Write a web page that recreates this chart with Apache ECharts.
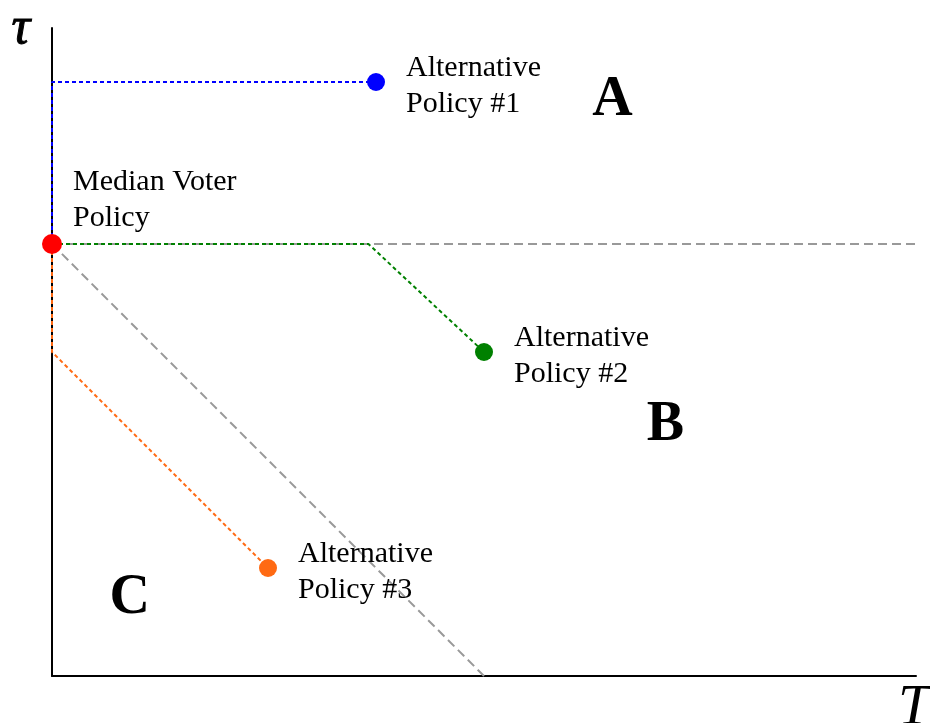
<!DOCTYPE html>
<html><head><meta charset="utf-8">
<script src="https://cdn.jsdelivr.net/npm/echarts@6/dist/echarts.min.js"></script>
<style>html,body{margin:0;padding:0;background:#fff}#c{width:930px;height:723px}</style>
</head><body><div id="c"></div>
<script>
const medianVoter = [0, 4];
const medianLabel = 'Median Voter\nPolicy';
const altNames = ['Alternative\nPolicy #1', 'Alternative\nPolicy #2', 'Alternative\nPolicy #3'];
const altPoints = [[3, 5.5], [4, 3], [2, 1]];
const altColors = ['#0000ff', '#008000', '#ff6a13'];
const pathBlue = [[0, 4], [0, 5.5], [3, 5.5]];
const pathGreen = [[0, 4], [2.93, 4], [4, 3]];
const pathOrange = [[0, 4], [0, 3], [2, 1]];
const grayHorizontal = [[0, 4], [8, 4]];
const grayDiagonal = [[0, 4], [4, 0]];
const regionNames = ['A', 'B', 'C'];
const regionPos = [[5.19, 5.33], [5.68, 2.32], [0.72, 0.72]];

const serif = 'Liberation Serif, Times New Roman, serif';
const chart = echarts.init(document.getElementById('c'));

function pathSeries(data, color, dash, width) {
  return {type: 'line', data: data, symbol: 'none', silent: true, z: 2,
    lineStyle: {color: color, width: width, type: dash}};
}

chart.setOption({
  animation: false,
  grid: {left: 52, right: 14, top: 28, bottom: 47},
  xAxis: {type: 'value', min: 0, max: 8, axisLine: {lineStyle: {color: '#000', width: 2}},
    axisTick: {show: false}, axisLabel: {show: false}, splitLine: {show: false}},
  yAxis: {type: 'value', min: 0, max: 6, axisLine: {show: true, lineStyle: {color: '#000', width: 2}},
    axisTick: {show: false}, axisLabel: {show: false}, splitLine: {show: false}},
  graphic: [
    {type: 'text', left: 11, top: 3, style: {text: 'τ', font: 'italic 52px ' + serif, fill: '#000', stroke: '#000', lineWidth: 1}},
    {type: 'text', left: 898, top: 680, style: {text: 'T', font: 'italic 58px ' + serif, fill: '#000'}}
  ],
  series: [
    pathSeries(grayHorizontal, '#999999', [9, 5], 2),
    pathSeries(grayDiagonal, '#999999', [9, 5], 2),
    pathSeries(pathBlue, altColors[0], [4, 3], 2),
    pathSeries(pathGreen, altColors[1], [4, 3], 2),
    pathSeries(pathOrange, altColors[2], [4, 3], 2),
    {type: 'scatter', z: 5, symbolSize: 18,
      data: altPoints.map((p, i) => ({value: p, name: altNames[i], itemStyle: {color: altColors[i], opacity: 1}})),
      label: {show: true, position: 'right', distance: 21, offset: [0, 4], formatter: p => p.name,
        fontFamily: serif, fontSize: 30, lineHeight: 36, color: '#000'}},
    {type: 'scatter', z: 6, symbolSize: 20,
      data: [{value: medianVoter, name: medianLabel}],
      itemStyle: {color: '#ff0000', opacity: 1},
      label: {show: true, position: 'right', distance: 11, offset: [0, -44], formatter: p => p.name,
        fontFamily: serif, fontSize: 30, lineHeight: 36, color: '#000'}},
    {type: 'scatter', z: 4, symbolSize: 0, silent: true,
      itemStyle: {opacity: 1},
      data: regionPos.map((p, i) => ({value: p, name: regionNames[i]})),
      label: {show: true, position: 'inside', formatter: p => p.name,
        fontFamily: serif, fontSize: 56, fontWeight: 'bold', color: '#000'}}
  ]
});
</script></body></html>
